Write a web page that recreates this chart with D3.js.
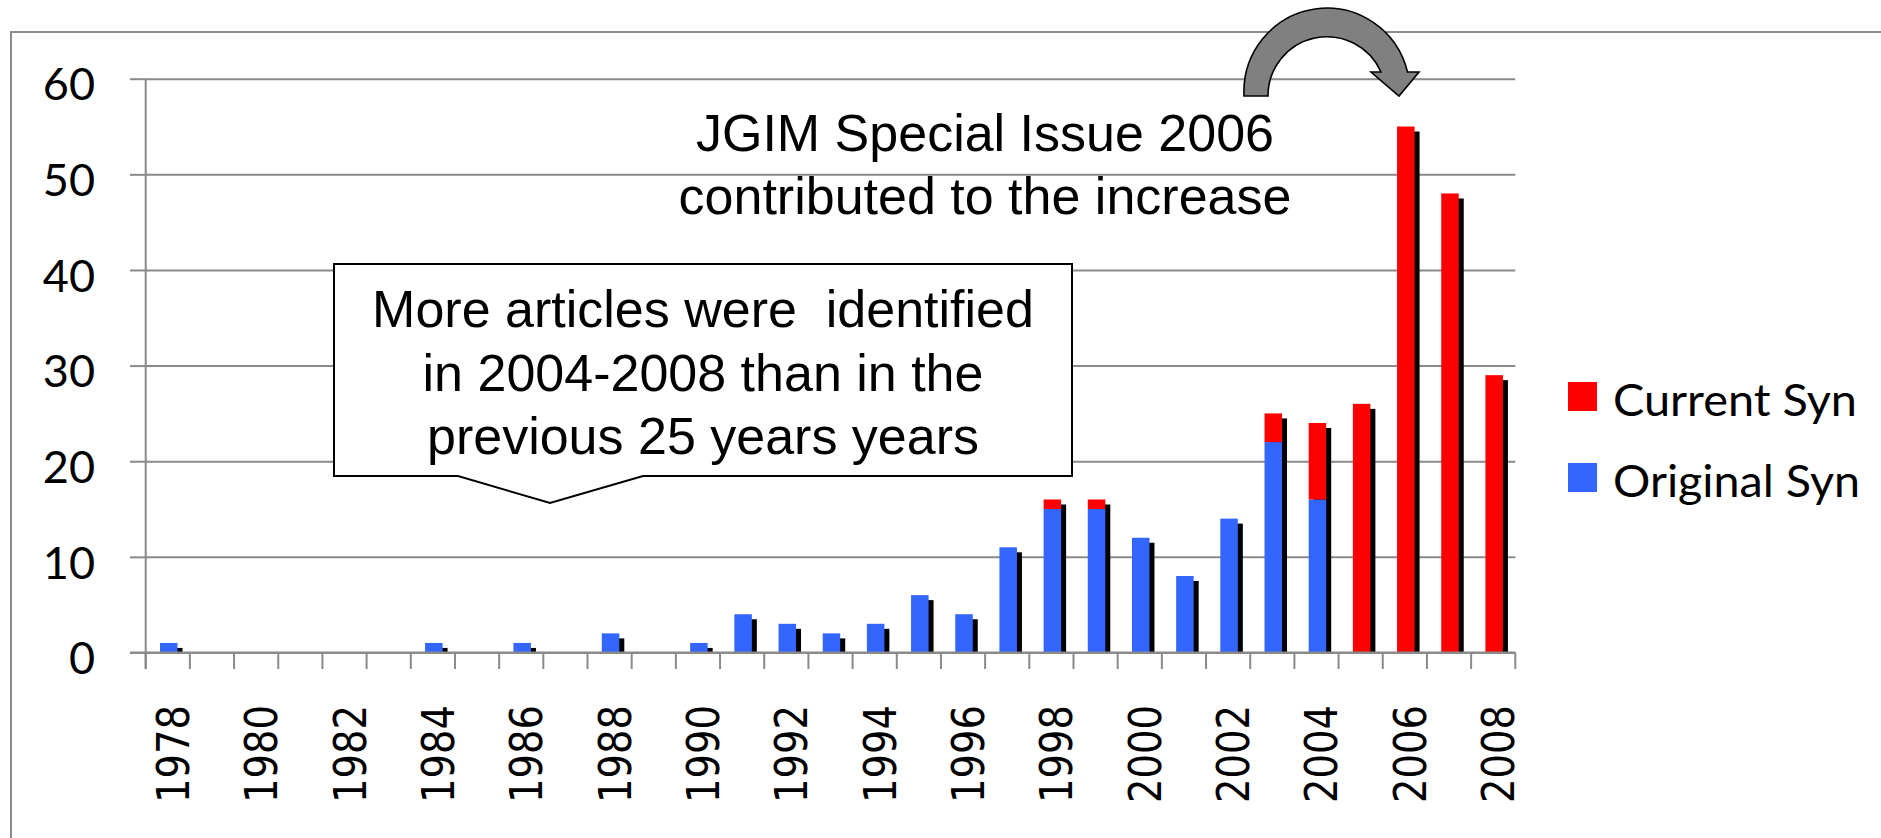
<!DOCTYPE html>
<html>
<head>
<meta charset="utf-8">
<script src="https://cdn.jsdelivr.net/npm/d3@7"></script>
<style>
    html, body { margin: 0; padding: 0; background: #fff; }
    svg { display: block; }
</style>
</head>
<body>
<svg id="chart" width="1881" height="838"></svg>
<script>
'use strict';

var years = [1978, 1979, 1980, 1981, 1982, 1983, 1984, 1985, 1986, 1987, 1988, 1989, 1990, 1991, 1992,
    1993, 1994, 1995, 1996, 1997, 1998, 1999, 2000, 2001, 2002, 2003, 2004, 2005, 2006, 2007, 2008];
var originalSyn = [1, 0, 0, 0, 0, 0, 1, 0, 1, 0, 2, 0, 1, 4, 3,
    2, 3, 6, 4, 11, 15, 15, 12, 8, 14, 22, 16, 0, 0, 0, 0];
var currentSyn = [0, 0, 0, 0, 0, 0, 0, 0, 0, 0, 0, 0, 0, 0, 0,
    0, 0, 0, 0, 0, 1, 1, 0, 0, 0, 3, 8, 26, 55, 48, 29];
var yTicks = [0, 10, 20, 30, 40, 50, 60];
var xTickLabels = [1978, 1980, 1982, 1984, 1986, 1988, 1990, 1992, 1994, 1996, 1998, 2000, 2002, 2004, 2006, 2008];
var seriesNames = ['Current Syn', 'Original Syn'];
var noteTop = ['JGIM Special Issue 2006', 'contributed to the increase'];
var noteBox = ['More articles were  identified', 'in 2004-2008 than in the', 'previous 25 years years'];

(function () {
    var svg = d3.select('#chart');
    var plot = {left: 145.7, right: 1515.3, top: 78.7, bottom: 652.5};
    var gridColor = '#8a8a8a';
    var red = '#ff0000';
    var blue = '#3366ff';
    var barOffset = 14.3;
    var barWidth = 17.5;
    var shadowDx = 5;
    var shadowDy = 5;
    var table;
    var stacked;
    var x;
    var y;
    var yAxis;
    var xAxis;
    var legend;

    x = d3.scaleBand()
        .domain(years)
        .range([plot.left, plot.right])
        .padding(0);

    y = d3.scaleLinear()
        .domain([0, 60])
        .range([plot.bottom, plot.top]);

    table = years.map(function (yr, i) {
        return {year: yr, original: originalSyn[i], current: currentSyn[i]};
    });
    stacked = d3.stack().keys(['original', 'current'])(table);

    svg.append('rect')
        .attr('width', 1881)
        .attr('height', 838)
        .attr('fill', '#fff');

    svg.append('defs')
        .append('filter')
        .attr('id', 'soft')
        .append('feGaussianBlur')
        .attr('stdDeviation', 0.6);

    // outer frame, cut by the picture edges
    svg.append('rect')
        .attr('x', 11)
        .attr('y', 32)
        .attr('width', 1950)
        .attr('height', 900)
        .attr('fill', 'none')
        .attr('stroke', '#8c8c8c')
        .attr('stroke-width', 2);

    // gridlines + y labels
    yAxis = svg.append('g')
        .attr('transform', 'translate(' + plot.left + ',0)')
        .call(d3.axisLeft(y).tickValues(yTicks).tickSize(15.7).tickPadding(35));

    yAxis.select('.domain').remove();
    yAxis.selectAll('.tick line')
        .attr('stroke', gridColor)
        .attr('stroke-width', 2);
    yAxis.selectAll('.tick')
        .append('line')
        .attr('x1', 0)
        .attr('x2', plot.right - plot.left)
        .attr('stroke', gridColor)
        .attr('stroke-width', 2);
    yAxis.selectAll('.tick text')
        .attr('dy', '0.47em')
        .attr('fill', '#000')
        .style('font-family', 'Lato, "Open Sans", sans-serif')
        .style('font-size', '45px');

    // shadows
    svg.append('g')
        .selectAll('rect')
        .data(table.filter(function (d) {
            return d.original + d.current > 0;
        }))
        .enter()
        .append('rect')
        .attr('x', function (d) {
            return x(d.year) + barOffset + shadowDx;
        })
        .attr('y', function (d) {
            return y(d.original + d.current) + shadowDy;
        })
        .attr('width', barWidth)
        .attr('height', function (d) {
            return Math.max(0, plot.bottom - y(d.original + d.current) - shadowDy);
        })
        .attr('fill', '#000')
        .attr('filter', 'url(#soft)');

    svg.append('g')
        .selectAll('g')
        .data(stacked)
        .enter()
        .append('g')
        .attr('fill', function (d) {
            return d.key === 'original' ? blue : red;
        })
        .selectAll('rect')
        .data(function (d) {
            return d.filter(function (p) {
                return p[1] > p[0];
            });
        })
        .enter()
        .append('rect')
        .attr('x', function (d) {
            return x(d.data.year) + barOffset;
        })
        .attr('y', function (d) {
            return y(d[1]);
        })
        .attr('width', barWidth)
        .attr('height', function (d) {
            return y(d[0]) - y(d[1]);
        });

    // axis lines and ticks on the band edges
    svg.append('line')
        .attr('x1', plot.left)
        .attr('x2', plot.left)
        .attr('y1', plot.top)
        .attr('y2', plot.bottom + 16.5)
        .attr('stroke', gridColor)
        .attr('stroke-width', 2);

    svg.append('line')
        .attr('x1', plot.left - 15.7)
        .attr('x2', plot.right)
        .attr('y1', plot.bottom)
        .attr('y2', plot.bottom)
        .attr('stroke', gridColor)
        .attr('stroke-width', 2.2);

    svg.append('g')
        .selectAll('line')
        .data(years.map(function (yr) {
            return x(yr);
        }).concat([plot.right]))
        .enter()
        .append('line')
        .attr('x1', function (d) {
            return d;
        })
        .attr('x2', function (d) {
            return d;
        })
        .attr('y1', plot.bottom)
        .attr('y2', plot.bottom + 16.5)
        .attr('stroke', gridColor)
        .attr('stroke-width', 2);

    xAxis = svg.append('g')
        .attr('transform', 'translate(0,' + plot.bottom + ')')
        .call(d3.axisBottom(x).tickValues(xTickLabels).tickSize(0));

    xAxis.select('.domain').remove();
    xAxis.selectAll('.tick text')
        .attr('transform', 'rotate(-90)')
        .attr('text-anchor', 'end')
        .attr('x', -52.5)
        .attr('y', 21)
        .attr('dy', 0)
        .attr('fill', '#000')
        .attr('textLength', 98)
        .attr('lengthAdjust', 'spacingAndGlyphs')
        .style('font-family', '"DejaVu Sans", sans-serif')
        .style('font-size', '45px');

    // legend
    legend = svg.append('g')
        .selectAll('g')
        .data(seriesNames)
        .enter()
        .append('g')
        .attr('transform', function (d, i) {
            return 'translate(1568,' + (382 + i * 81) + ')';
        });

    legend.append('rect')
        .attr('width', 29)
        .attr('height', 29)
        .attr('fill', function (d, i) {
            return i === 0 ? red : blue;
        });

    legend.append('text')
        .attr('x', 45)
        .attr('y', 34)
        .attr('textLength', function (d, i) {
            return i === 0 ? 244 : 247;
        })
        .attr('lengthAdjust', 'spacingAndGlyphs')
        .style('font-family', 'Lato, "Open Sans", sans-serif')
        .style('font-size', '45px')
        .text(function (d) {
            return d;
        });

    // curved arrow over 2006
    svg.append('path')
        .attr('d', 'M 1244 96 A 83 84 0 0 1 1407.5 72 L 1419 72 L 1399 96 L 1371 72 L 1381 72 ' +
            'A 59 59 0 0 0 1268 96 Z')
        .attr('fill', '#808080')
        .attr('stroke', '#000')
        .attr('stroke-width', 1.6)
        .attr('stroke-linejoin', 'miter');

    svg.append('g')
        .selectAll('text')
        .data(noteTop)
        .enter()
        .append('text')
        .attr('x', 985)
        .attr('y', function (d, i) {
            return 151 + i * 63;
        })
        .attr('text-anchor', 'middle')
        .style('font-family', '"Liberation Sans", Arial, sans-serif')
        .style('font-size', '52px')
        .text(function (d) {
            return d;
        });

    // callout box
    svg.append('path')
        .attr('d', 'M 334 264 H 1072 V 476 H 643 L 550 503 L 458 476 H 334 Z')
        .attr('fill', '#fff')
        .attr('stroke', '#000')
        .attr('stroke-width', 2);

    svg.append('g')
        .selectAll('text')
        .data(noteBox)
        .enter()
        .append('text')
        .attr('x', 703)
        .attr('y', function (d, i) {
            return 327 + i * 63.5;
        })
        .attr('text-anchor', 'middle')
        .style('white-space', 'pre')
        .style('font-family', '"Liberation Sans", Arial, sans-serif')
        .style('font-size', '52px')
        .text(function (d) {
            return d;
        });
})();
</script>
</body>
</html>
